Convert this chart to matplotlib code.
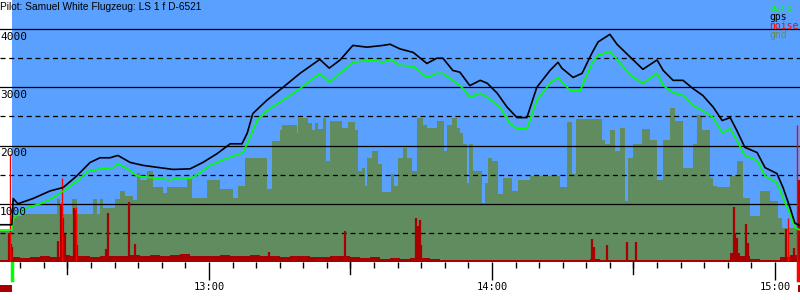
import matplotlib
matplotlib.use("Agg")
import matplotlib.pyplot as plt
import matplotlib.transforms as mtransforms
import numpy as np

title = "Pilot: Samuel White Flugzeug: LS 1 f D-6521"
legend_names = ["baro", "gps", "noise", "gnd"]

# time = minutes after 12:00
gps_t = [15.7, 18.2, 18.5, 19.5, 22.7, 26.3, 29.1, 32.0, 34.8, 36.9, 39.0, 40.7, 43.3, 46.0,
         49.6, 52.4, 56.0, 58.7, 61.7, 64.5, 67.0, 68.1, 69.3, 72.3, 75.7, 79.3, 83.5, 85.5,
         87.8, 90.5, 93.5, 96.9, 98.4, 100.5, 103.3, 106.2, 108.3, 109.6, 111.7, 113.2, 115.3,
         117.5, 119.0, 121.1, 123.2, 125.3, 127.4, 129.5, 132.3, 134.0, 134.8, 137.2, 139.1,
         141.2, 142.5, 145.0, 146.5, 149.3, 152.0, 155.0, 156.3, 158.4, 160.5, 162.6, 164.7,
         166.9, 168.8, 170.5, 171.9, 173.6, 176.2, 177.9, 180.4, 181.7, 183.2, 184.2, 185.3]
gps_alt = [640, 640, 1090, 1000, 1090, 1220, 1280, 1480, 1710, 1790, 1790, 1830, 1710, 1660,
           1620, 1590, 1600, 1710, 1860, 2030, 2030, 2210, 2550, 2780, 3000, 3240, 3480, 3330,
           3470, 3720, 3690, 3720, 3740, 3660, 3600, 3410, 3500, 3500, 3290, 3260, 3030,
           3120, 3070, 2900, 2660, 2480, 2480, 3000, 3290, 3430, 3330, 3170, 3240,
           3590, 3780, 3910, 3740, 3520, 3310, 3470, 3290, 3120, 3120, 2980, 2860,
           2660, 2430, 2480, 2260, 1970, 1880, 1620, 1520, 1280, 930, 670, 620]

baro_t = [15.7, 18.2, 18.5, 20.6, 24.2, 26.9, 29.9, 32.7, 34.1, 36.9, 39.7, 40.7, 43.3, 44.7,
          47.5, 51.7, 53.9, 56.0, 58.1, 60.2, 63.8, 67.2, 68.1, 70.2, 72.3, 75.7, 79.3, 83.5,
          85.5, 87.8, 90.5, 94.8, 96.9, 98.4, 100.5, 103.3, 106.2, 108.3, 109.6, 111.7, 113.9,
          115.3, 117.5, 119.0, 121.7, 123.8, 125.3, 127.4, 129.5, 132.3, 134.0, 136.5, 138.7,
          141.2, 142.5, 145.0, 146.5, 149.3, 152.0, 155.0, 156.3, 158.4, 160.5, 162.6, 164.7,
          166.9, 168.8, 170.5, 171.9, 173.6, 176.2, 177.9, 180.4, 181.7, 183.2, 184.2, 185.3]
baro_alt = [550, 550, 740, 910, 1000, 1100, 1260, 1430, 1550, 1600, 1620, 1690, 1570, 1480,
            1450, 1410, 1450, 1430, 1530, 1660, 1780, 1880, 2030, 2430, 2600, 2780, 2980, 3240,
            3090, 3240, 3430, 3470, 3430, 3480, 3380, 3360, 3170, 3240, 3240, 3120, 2980,
            2830, 2900, 2830, 2660, 2380, 2290, 2290, 2780, 3070, 3170, 2950, 2950,
            3410, 3550, 3620, 3480, 3210, 3070, 3240, 3030, 2910, 2860, 2690, 2600,
            2480, 2220, 2290, 2090, 1830, 1740, 1480, 1360, 1100, 830, 590, 550]

gnd_t = [15.7, 18.5, 20.4, 27.8, 28.4, 31.0, 32.0, 35.4, 36.3, 36.9, 37.5, 40.1, 41.1, 42.2,
         43.9, 44.7, 45.4, 46.9, 48.1, 50.3, 51.1, 55.3, 56.4, 59.6, 62.3, 65.1, 66.2, 67.6,
         72.3, 73.4, 75.1, 75.5, 78.7, 78.9, 81.0, 81.8, 82.5, 83.1, 84.2, 84.8, 85.7, 88.2,
         89.5, 91.0, 91.6, 92.4, 93.1, 93.5, 94.6, 95.8, 96.7, 98.6, 99.2, 100.1, 101.1, 102.0,
         103.0, 104.1, 105.4, 106.2, 108.3, 109.8, 110.5, 111.5, 112.6, 113.2, 113.9, 114.7,
         115.1, 116.0, 117.9, 118.5, 119.2, 120.0, 121.3, 122.3, 124.2, 125.5, 128.1, 134.4,
         135.9, 137.0, 137.8, 143.3, 144.0, 145.0, 146.1, 147.1, 148.2, 148.8, 149.9, 151.8,
         153.5, 155.0, 156.3, 157.7, 158.8, 160.5, 162.6, 163.5, 164.5, 166.2, 166.9, 167.7,
         170.5, 171.9, 173.2, 174.7, 176.8, 178.9, 180.6, 181.5, 185.3]
gnd_alt = [530, 790, 830, 1090, 830, 1090, 830, 1090, 830, 1090, 930, 1090, 1220, 1140,
           1070, 1530, 1400, 1570, 1280, 1190, 1290, 1430, 1100, 1400, 1260, 1100, 1310, 1780,
           1260, 2070, 2260, 2360, 2220, 2470, 2380, 2260, 2380, 2290, 2480, 1740, 2430, 2310,
           2400, 2260, 1570, 1620, 1310, 1780, 1910, 1690, 1210, 1520, 1310, 1790, 1950, 1780,
           1570, 2470, 2360, 2310, 2430, 1910, 2360, 2470, 2310, 2210, 2030, 1360,
           2020, 1570, 1020, 1350, 1790, 1740, 1170, 1450, 1220, 1400, 1470, 1280,
           2400, 1520, 2450, 2090, 2030, 2260, 1910, 2310, 1050, 1790, 2030, 2290,
           2090, 1400, 2090, 2640, 2430, 1620, 2030, 2520, 2260, 1450, 1310, 1280,
           1480, 1740, 1100, 790, 1220, 1050, 760, 590, 590]

# noise level, one value per ~2.1 minute interval starting at 12:15.7
noise_start = 15.7
noise_step = 2.12
noise_lvl = [35, 85, 65, 90, 100, 80, 120, 110, 100, 90, 100, 110, 100, 120, 100, 120, 110, 120,
             130, 110, 100, 110, 120, 100, 110, 120, 110, 100, 90, 110, 100, 80, 90, 110, 100, 90,
             70, 80, 55, 65, 55, 65, 75, 45, 40, 30, 30, 30, 30, 30, 30, 30, 30, 30, 30, 30, 30,
             30, 30, 60, 40, 40, 30, 30, 30, 30, 30, 30, 30, 30, 30, 30, 40, 150, 100, 60, 30, 30,
             80, 120]
# single noise peaks (minute, height)
peak_t = [17.6, 18.0, 18.3, 28.0, 28.6, 28.9, 29.1, 29.5, 31.4, 31.6, 31.8, 32.0, 38.2, 38.6,
          43.0, 44.3, 72.7, 88.8, 103.9, 104.3, 104.7, 104.9, 141.2, 141.6, 144.4, 148.6,
          150.5, 171.3, 171.5, 171.9, 173.9, 174.3, 182.3, 184.0, 185.1]
peak_v = [500, 310, 250, 360, 1000, 950, 760, 480, 930, 900, 850, 300, 220, 850,
          1030, 310, 170, 530, 760, 620, 720, 300, 400, 250, 290, 340,
          340, 950, 500, 410, 650, 330, 570, 240, 1400]
spike_t = [17.8, 28.8, 31.8, 182.8, 184.6]
spike_v = [1860, 1450, 950, 760, 2360]

takeoff_t = 18.2
landing_t = 184.9

blue = "#5aa0ff"
gnd_c = "#608c60"
noise_c = "#a80000"

fig = plt.figure(figsize=(8, 3), dpi=100)
ax = fig.add_axes([0, 1 - 262 / 300, 1, 262 / 300])
ax.set_facecolor("white")
ax.set_xlim(15.7, 185.3)
ax.set_ylim(0, 4500)

ax.axvspan(takeoff_t, 185.3, color=blue, lw=0, zorder=0)
ax.fill_between(gnd_t, 0, gnd_alt, step="post", color=gnd_c, lw=0, zorder=1)

for lvl in range(1000, 4500, 1000):
    ax.axhline(lvl, color="black", lw=0.9, zorder=2)
for lvl in range(500, 4500, 1000):
    ax.axhline(lvl, color="black", lw=0.9, dashes=(4, 3), zorder=2)

nt = noise_start + noise_step * np.arange(len(noise_lvl) + 1)
ax.fill_between(nt, 0, noise_lvl + [noise_lvl[-1]], step="post", color=noise_c, lw=0, zorder=3)
ax.vlines(peak_t, 0, peak_v, color=noise_c, lw=1.6, zorder=3)
ax.vlines(spike_t, 0, spike_v, color="#ff0000", lw=1.0, zorder=3)

ax.plot(baro_t, baro_alt, color="#00ff00", lw=1.2, zorder=4)
ax.plot(gps_t, gps_alt, color="black", lw=1.2, zorder=5)

# y labels inside the plot
for lvl in range(1000, 4500, 1000):
    ax.annotate(str(lvl), (0, lvl), xycoords=("axes fraction", "data"),
                xytext=(0, -2), textcoords="offset points", va="top", ha="left",
                fontsize=8, family="DejaVu Sans Mono", zorder=6)

for s in ax.spines.values():
    s.set_visible(False)
ax.set_yticks([])
ax.set_xticks([60, 120, 180])
ax.set_xticklabels(["13:00", "14:00", "15:00"], family="DejaVu Sans Mono", fontsize=7.5)
ax.set_xticks([m for m in range(20, 186, 5) if m % 60], minor=True)
ax.tick_params(axis="x", which="major", length=13, width=1, pad=1.5, color="black")
ax.tick_params(axis="x", which="minor", length=4.5, width=1, color="black")
# longer ticks at the half hours
trans = mtransforms.blended_transform_factory(ax.transData, ax.transAxes)
for m in [30, 90, 150]:
    ax.plot([m, m], [0, -12 / 262], color="black", lw=1, transform=trans, clip_on=False)

# takeoff / landing marks below the axis
ax.plot([takeoff_t, takeoff_t], [0, -18 / 262], color="#00ff00", lw=2.5,
        transform=trans, clip_on=False)
ax.plot([landing_t, landing_t], [0, -18 / 262], color="#ff0000", lw=2.5,
        transform=trans, clip_on=False)
ax.fill_between([15.7, takeoff_t], -30 / 262, -23 / 262, color=noise_c, lw=0,
                transform=trans, clip_on=False)
ax.fill_between([landing_t, 185.3], -30 / 262, -23 / 262, color=noise_c, lw=0,
                transform=trans, clip_on=False)

fig.text(0, 1 - 2 / 300, title, va="top", ha="left", fontsize=7.3, family="Liberation Sans")
leg_colors = ["#00ff00", "black", "#ff0000", gnd_c]
for i, (name, c) in enumerate(zip(legend_names, leg_colors)):
    fig.text(769 / 800, 1 - (3 + 9 * i) / 300, name, color=c, va="top", ha="left",
             fontsize=7, family="DejaVu Sans Mono")

fig.savefig("out.png", dpi=100)
